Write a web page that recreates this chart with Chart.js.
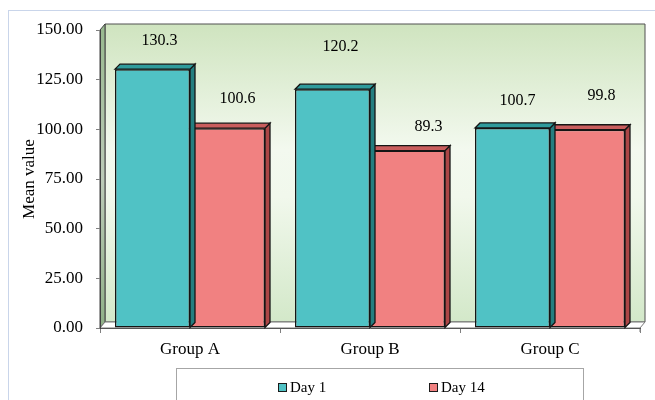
<!DOCTYPE html>
<html>
<head>
<meta charset="utf-8">
<title>Mean value by group</title>
<script src="https://cdn.jsdelivr.net/npm/chart.js@4/dist/chart.umd.min.js"></script>
<style>
  html, body { margin: 0; padding: 0; background: #ffffff; }
  #wrap { width: 655px; height: 400px; }
</style>
</head>
<body>
<div id="wrap"><canvas id="chart" width="655" height="400"></canvas></div>
<script>
// ---- data ----
const categories = ["Group A", "Group B", "Group C"];
const seriesNames = ["Day 1", "Day 14"];
const day1Values = [130.3, 120.2, 100.7];
const day14Values = [100.6, 89.3, 99.8];
const yTicks = [0, 25, 50, 75, 100, 125, 150];

// ---- styling ----
const SERIF = '"Liberation Serif", "Times New Roman", serif';
const faceColors = [
  { front: "#50c2c5", top: "#2f9b9c", side: "#247e80" },
  { front: "#f18181", top: "#c95d5d", side: "#ab4646" }
];
const BAR_DEPTH = { dx: 5, dy: -5 };
const WALL_DEPTH = { dx: 5, dy: -6 };
// hand-placed value labels: offset from the top-centre of each bar
const labelNudge = [
  [[7, -28], [8, -42], [5, -27]],
  [[10, -29], [21, -24], [14, -34]]
];

function poly(ctx, pts, fill, stroke, lw) {
  ctx.beginPath();
  ctx.moveTo(pts[0][0], pts[0][1]);
  for (let i = 1; i < pts.length; i++) ctx.lineTo(pts[i][0], pts[i][1]);
  ctx.closePath();
  if (fill) { ctx.fillStyle = fill; ctx.fill(); }
  if (stroke) { ctx.strokeStyle = stroke; ctx.lineWidth = lw || 1; ctx.stroke(); }
}

// walls, floor and outer frame behind the axes
const wallsPlugin = {
  id: "walls",
  beforeDraw(chart) {
    const { ctx, chartArea: a } = chart;
    const dx = WALL_DEPTH.dx, dy = WALL_DEPTH.dy;
    ctx.save();
    // outer frame
    ctx.strokeStyle = "#c9d5ea";
    ctx.lineWidth = 1;
    ctx.strokeRect(8.5, 10.5, 800, 600);

    // back wall
    const bx0 = a.left + dx, bx1 = a.right + dx, by0 = a.top + dy, by1 = a.bottom + dy;
    const g = ctx.createLinearGradient(0, by0, 0, by1);
    g.addColorStop(0, "#cfe4bf");
    g.addColorStop(0.42, "#f3f9ef");
    g.addColorStop(0.58, "#f1f8ec");
    g.addColorStop(1, "#d3e8c9");
    poly(ctx, [[bx0, by0], [bx1, by0], [bx1, by1], [bx0, by1]], g, "#505050", 1);

    // left side wall
    const sg = ctx.createLinearGradient(0, a.top, 0, a.bottom);
    sg.addColorStop(0, "#98b98f");
    sg.addColorStop(0.5, "#bccbb8");
    sg.addColorStop(1, "#8fb087");
    poly(ctx, [[a.left, a.top], [bx0, by0], [bx0, by1], [a.left, a.bottom]], sg, "#404040", 1);

    // floor
    poly(ctx, [[a.left, a.bottom], [bx0, by1], [bx1, by1], [a.right, a.bottom]], "#ffffff", "#7a7a7a", 1);
    ctx.beginPath();
    ctx.moveTo(a.right, a.bottom); ctx.lineTo(a.right, a.bottom + 4);
    ctx.strokeStyle = "#7a7a7a"; ctx.stroke();
    ctx.restore();
  }
};

// top and side faces of each bar, drawn right after its dataset
const barFacesPlugin = {
  id: "barFaces",
  afterDatasetDraw(chart, args) {
    const { ctx } = chart;
    const c = faceColors[args.index];
    const dx = BAR_DEPTH.dx, dy = BAR_DEPTH.dy;
    ctx.save();
    args.meta.data.forEach(bar => {
      const p = bar.getProps(["x", "y", "base", "width"], true);
      const l = p.x - p.width / 2, r = p.x + p.width / 2, t = p.y, b = p.base;
      poly(ctx, [[r, t], [r + dx, t + dy], [r + dx, b + dy], [r, b]], c.side, "#151515", 1.3);
      poly(ctx, [[l, t], [l + dx, t + dy], [r + dx, t + dy], [r, t]], c.top, "#151515", 1.3);
    });
    ctx.restore();
  }
};

// value labels and the boxed legend
const labelsPlugin = {
  id: "valueLabels",
  afterDraw(chart) {
    const { ctx } = chart;
    ctx.save();
    ctx.fillStyle = "#000";
    ctx.font = "16px " + SERIF;
    ctx.textAlign = "center";
    ctx.textBaseline = "middle";
    chart.data.datasets.forEach((ds, di) => {
      chart.getDatasetMeta(di).data.forEach((bar, i) => {
        const n = labelNudge[di][i];
        ctx.fillText(ds.data[i].toFixed(1), bar.x + n[0], bar.y + n[1]);
      });
    });

    // legend box
    ctx.strokeStyle = "#a6a6a6";
    ctx.lineWidth = 1;
    ctx.strokeRect(176.5, 368.5, 407, 60);
    const items = [{ x: 278 }, { x: 429 }];
    ctx.font = "15px " + SERIF;
    ctx.textAlign = "left";
    items.forEach((it, i) => {
      ctx.fillStyle = faceColors[i].front;
      ctx.fillRect(it.x + 0.5, 383.5, 8, 8);
      ctx.strokeStyle = "#1b1b1b";
      ctx.strokeRect(it.x + 0.5, 383.5, 8, 8);
      ctx.fillStyle = "#000";
      ctx.fillText(chart.data.datasets[i].label, it.x + 12, 388);
    });
    ctx.restore();
  }
};

const datasets = [day1Values, day14Values].map((vals, i) => ({
  label: seriesNames[i],
  data: vals,
  backgroundColor: faceColors[i].front,
  borderColor: "#151515",
  borderWidth: 1.5,
  borderSkipped: false,
  categoryPercentage: 150 / 180,
  barPercentage: 1.0
}));

new Chart(document.getElementById("chart"), {
  type: "bar",
  data: { labels: categories, datasets },
  options: {
    responsive: false,
    animation: false,
    layout: { padding: { top: 30, right: 15, left: 0, bottom: 0 } },
    plugins: { legend: { display: false }, tooltip: { enabled: false } },
    scales: {
      x: {
        grid: { offset: true, drawOnChartArea: false, drawTicks: true, tickLength: 5, color: "#808080" },
        border: { display: true, color: "#555" },
        ticks: { color: "#000", font: { family: SERIF, size: 17 }, padding: 6 },
        afterFit(scale) { scale.height = 72; }
      },
      y: {
        min: 0, max: 150,
        afterBuildTicks(scale) { scale.ticks = yTicks.map(v => ({ value: v })); },
        grid: { drawOnChartArea: false, drawTicks: true, tickLength: 4, color: "#808080" },
        border: { display: true, color: "#404040" },
        ticks: { color: "#000", font: { family: SERIF, size: 17 }, padding: 13,
                 callback: v => Number(v).toFixed(2) },
        title: { display: true, text: "Mean value", color: "#000",
                 font: { family: SERIF, size: 17 }, padding: { top: 19, bottom: 0 } },
        afterFit(scale) { scale.width = 100; }
      }
    }
  },
  plugins: [wallsPlugin, barFacesPlugin, labelsPlugin]
});
</script>
</body>
</html>
